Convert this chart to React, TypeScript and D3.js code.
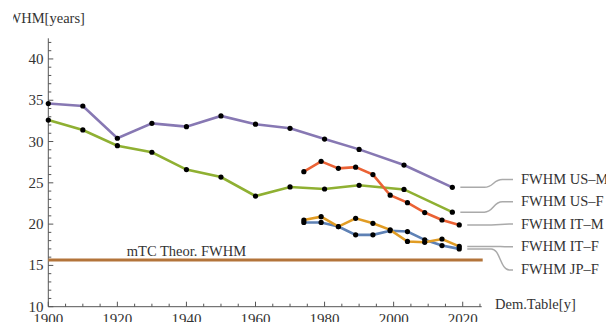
import React from 'react';
import * as d3 from 'd3';

// years of the demographic tables
const usYears = [1900, 1910, 1920, 1930, 1940, 1950, 1960, 1970, 1980, 1990, 2003, 2017];
const itYears = [1974, 1979, 1984, 1989, 1994, 1999, 2004, 2009, 2014, 2019];

// FWHM values (years)
const usM = [34.6, 34.3, 30.4, 32.2, 31.8, 33.1, 32.1, 31.6, 30.3, 29.05, 27.15, 24.45];
const usF = [32.6, 31.4, 29.5, 28.7, 26.6, 25.7, 23.4, 24.5, 24.25, 24.7, 24.2, 21.45];
const itM = [26.35, 27.6, 26.75, 26.9, 26.0, 23.5, 22.6, 21.4, 20.5, 19.9];
const itF = [20.5, 20.9, 19.7, 20.7, 20.1, 19.3, 17.9, 17.8, 18.2, 17.3];
const jpF = [20.2, 20.2, 19.7, 18.7, 18.7, 19.2, 19.1, 18.1, 17.4, 17.0];

const theorFwhm = 15.65;
const yTicks = [10, 15, 20, 25, 30, 35, 40];
const xTicks = [1900, 1920, 1940, 1960, 1980, 2000, 2020];

// drawing order follows the plot's colour order
const series = [
  { name: 'FWHM JP-F', years: itYears, values: jpF, color: '#5e81b5', labelAt: 14.45 },
  { name: 'FWHM IT-F', years: itYears, values: itF, color: '#e19c24', labelAt: 17.25 },
  { name: 'FWHM US-F', years: usYears, values: usF, color: '#8fb032', labelAt: 22.7 },
  { name: 'FWHM IT-M', years: itYears, values: itM, color: '#eb6235', labelAt: 20.0 },
  { name: 'FWHM US-M', years: usYears, values: usM, color: '#8778b3', labelAt: 25.4 },
];

const W = 606;
const H = 322;
const font = '"Liberation Serif", "Times New Roman", serif';
const ink = '#333';

export default function App() {
  const x = d3.scaleLinear().domain([1900, 2025.5]).range([48.3, 481.7]);
  const y = d3.scaleLinear().domain([10, 42.5]).range([306.7, 38.3]);

  const line = d3
    .line<[number, number]>()
    .x(d => x(d[0]))
    .y(d => y(d[1]));

  const xMinor = d3.range(1900, 2026, 5);
  const yMinor = d3.range(10, 43, 1);

  const leader = (px: number, py: number, ly: number) => {
    const sx = px + 8;
    const a = sx + 24;
    const b = a + 18;
    return `M${sx},${py}H${a}C${a + 9},${py} ${b - 9},${ly} ${b},${ly}H513`;
  };

  return (
    <svg
      width={W}
      height={H}
      style={{ position: 'absolute', left: 0, top: 0, background: '#fff' }}
      fontFamily={font}
    >
      <defs>
        <clipPath id="ylab-clip">
          <rect x={13} y={0} width={200} height={40} />
        </clipPath>
      </defs>

      {/* axes */}
      <line x1={x(1900)} x2={x(2025.5)} y1={y(10)} y2={y(10)} stroke="#555" strokeWidth={1} />
      <line x1={x(1900)} x2={x(1900)} y1={y(10)} y2={y(42.5)} stroke="#555" strokeWidth={1} />
      {xMinor.map(t => (
        <line
          key={'xt' + t}
          x1={x(t)}
          x2={x(t)}
          y1={y(10)}
          y2={y(10) - (t % 20 === 0 ? 5 : 3)}
          stroke="#555"
        />
      ))}
      {yMinor.map(t => (
        <line
          key={'yt' + t}
          x1={x(1900)}
          x2={x(1900) + (t % 5 === 0 ? 5 : 3)}
          y1={y(t)}
          y2={y(t)}
          stroke="#555"
        />
      ))}
      {yTicks.map(t => (
        <text key={'yl' + t} x={43.5} y={y(t) + 5} textAnchor="end" fontSize={15} fill={ink}>
          {t}
        </text>
      ))}
      {xTicks.map(t => (
        <text key={'xl' + t} x={x(t)} y={y(10) + 17} textAnchor="middle" fontSize={15} fill={ink}>
          {t}
        </text>
      ))}
      <text x={-0.5} y={23} fontSize={14.5} fill={ink} clipPath="url(#ylab-clip)">
        FWHM[years]
      </text>
      <text x={495} y={309} fontSize={14.5} fill={ink}>
        Dem.Table[y]
      </text>

      {/* series */}
      {series.map(s => {
        const pts = s.years.map((yr, i) => [yr, s.values[i]] as [number, number]);
        return (
          <g key={s.name}>
            <path d={line(pts) || ''} fill="none" stroke={s.color} strokeWidth={2.6} />
            {pts.map((p, i) => (
              <circle key={i} cx={x(p[0])} cy={y(p[1])} r={2.6} fill="#000" />
            ))}
          </g>
        );
      })}

      {/* theoretical FWHM */}
      <line
        x1={x(1900)}
        x2={x(2025.5) + 1}
        y1={y(theorFwhm)}
        y2={y(theorFwhm)}
        stroke="#b3743a"
        strokeWidth={3}
      />
      <text x={x(1940)} y={y(theorFwhm) - 4} textAnchor="middle" fontSize={14.5} fill={ink}>
        mTC Theor. FWHM
      </text>

      {/* callouts */}
      {series.map(s => {
        const n = s.years.length - 1;
        const px = x(s.years[n]);
        const py = y(s.values[n]);
        const ly = y(s.labelAt);
        return (
          <g key={'c' + s.name}>
            <path d={leader(px, py, ly)} fill="none" stroke="#aaa" strokeWidth={1.5} />
            <text x={521} y={ly + 4.5} fontSize={14.5} fill={ink}>
              {s.name.replace('-', '\u2013')}
            </text>
          </g>
        );
      })}
    </svg>
  );
}
